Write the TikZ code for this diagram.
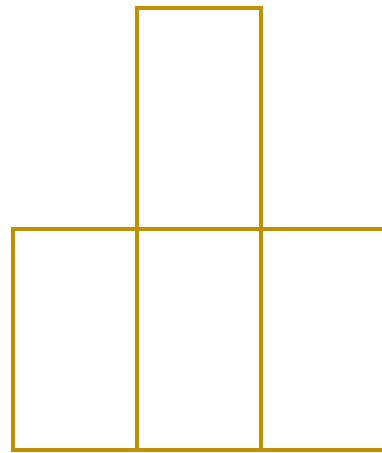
\documentclass[tikz,border=0pt]{standalone}
\usepackage{xcolor}
\usetikzlibrary{positioning}
\definecolor{gold}{HTML}{BF9000}

\begin{document}
\begin{tikzpicture}[x=1pt,y=-1pt,
 cell/.style={draw=gold,line width=3.5pt,minimum width=124pt,minimum height=221pt,inner sep=0pt,outer sep=0pt}]
\useasboundingbox (0,0) rectangle (382,453);
\clip (0,0) rectangle (382,453);
\node[cell] (top) at (199,118.5) {};
\node[cell,below=0pt of top] (mid) {};
\node[cell,left=0pt of mid] (left) {};
\node[cell,right=0pt of mid] (right) {};
\end{tikzpicture}
\end{document}
